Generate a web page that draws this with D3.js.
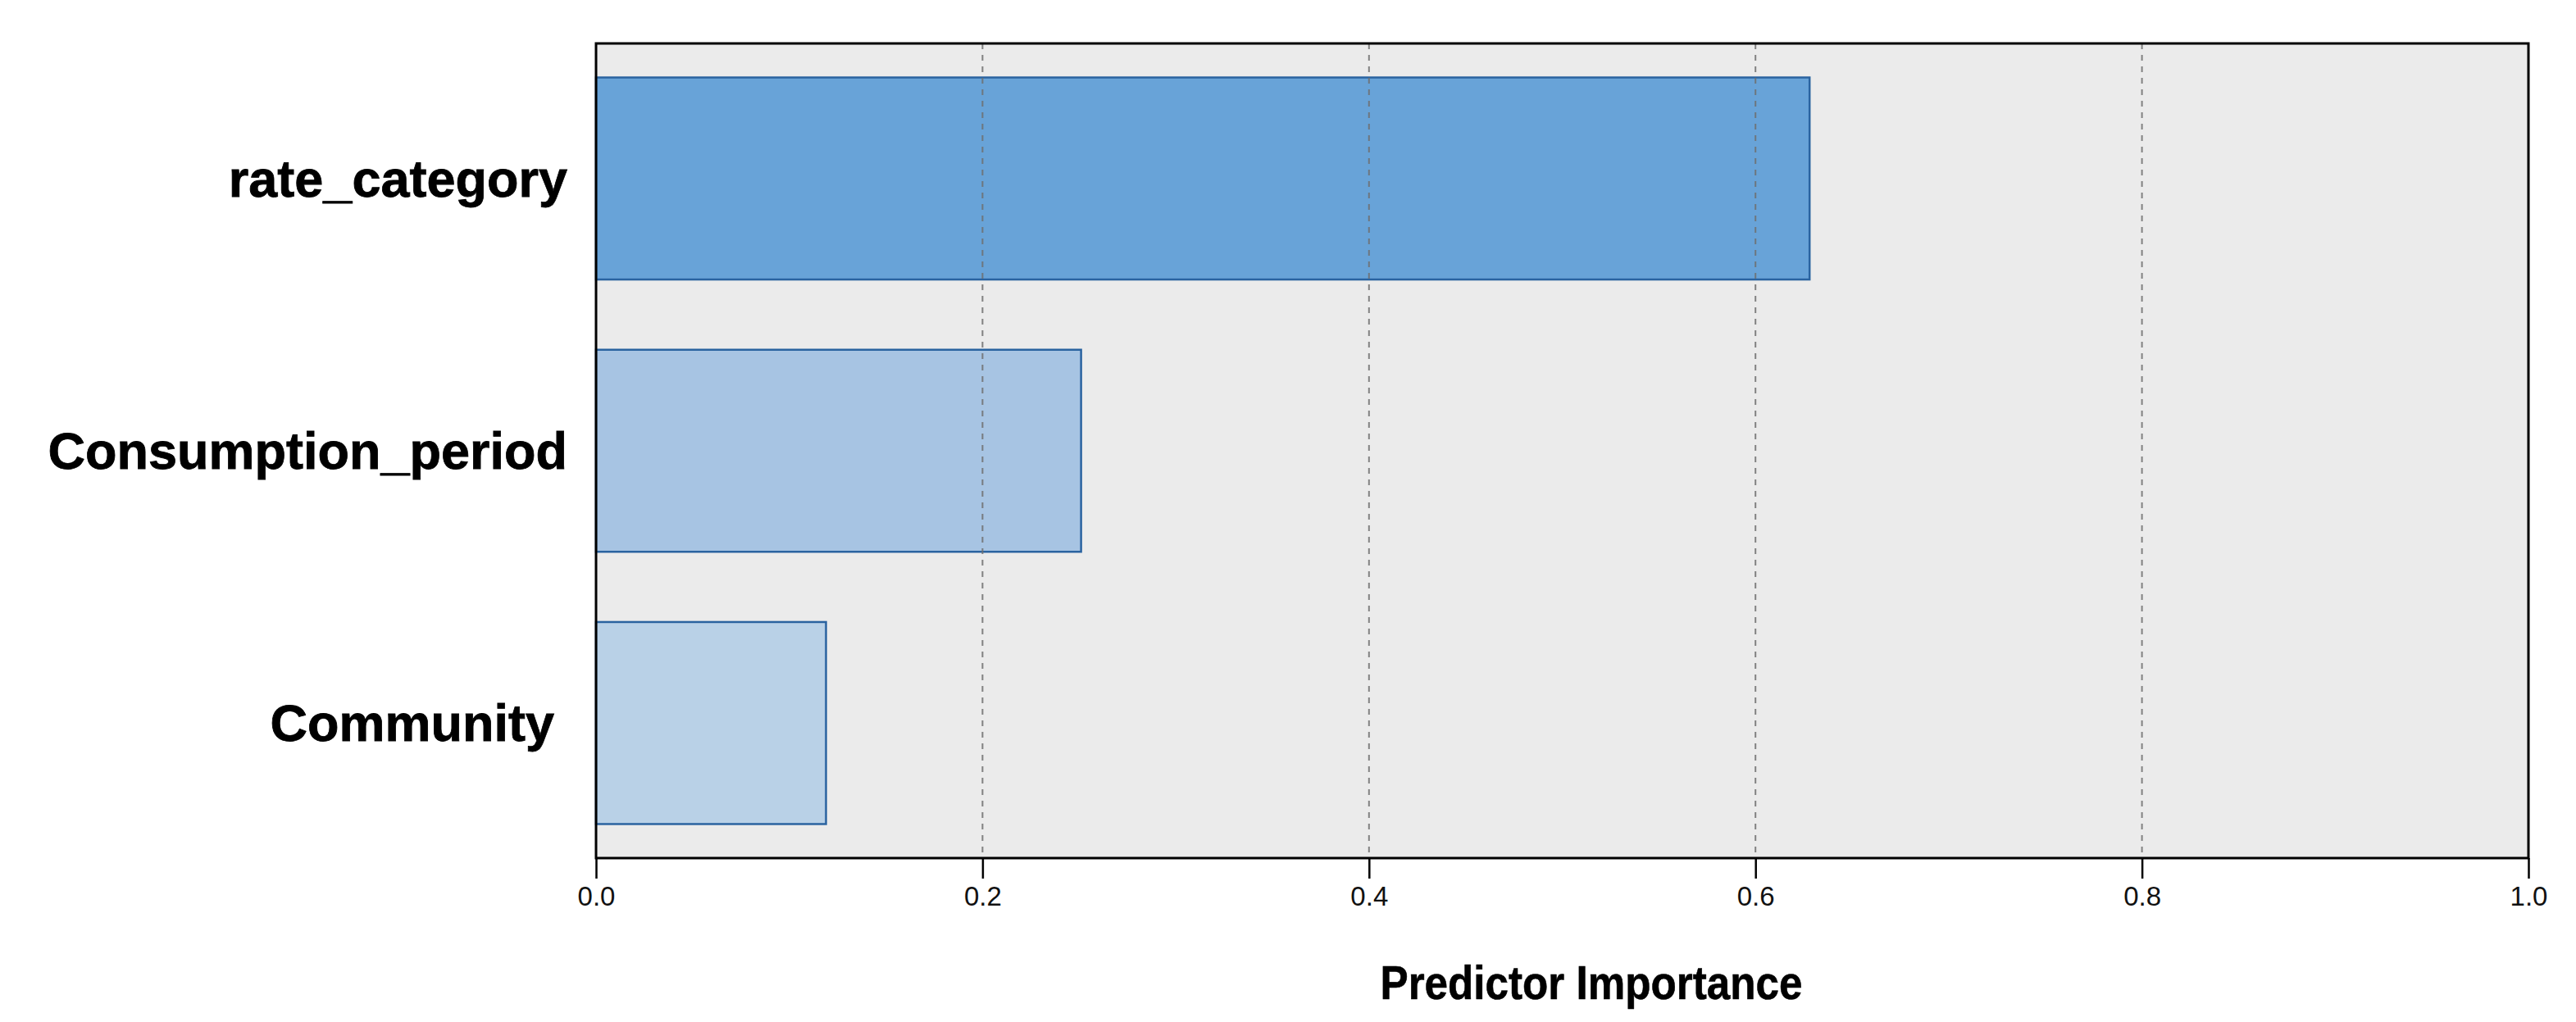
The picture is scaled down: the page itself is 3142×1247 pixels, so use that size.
<!DOCTYPE html>
<html>
<head>
<meta charset="utf-8">
<script src="https://cdn.jsdelivr.net/npm/d3@7"></script>
<style>
  html, body { margin: 0; padding: 0; background: #ffffff; }
  svg { display: block; }
</style>
</head>
<body>
<svg id="chart" width="3142" height="1247"></svg>
<script>
// ---- data ----
const categories = ["rate_category", "Consumption_period", "Community"];
const importance = [0.628, 0.251, 0.119];
const barColors = ["#68a3d8", "#a7c4e3", "#b9d1e7"];
const tickValues = [0.0, 0.2, 0.4, 0.6, 0.8, 1.0];
const xTitle = "Predictor Importance";

// ---- layout ----
const W = 3142, H = 1247;
const m = { left: 727, right: 3084, top: 53, bottom: 1047 };
const svg = d3.select("#chart");

const x = d3.scaleLinear().domain([0, 1]).range([m.left, m.right]);
const y = d3.scaleBand().domain(categories).range([m.top, m.bottom])
  .paddingInner(0.258).paddingOuter(0.125);

// background
svg.append("rect")
  .attr("x", m.left).attr("y", m.top)
  .attr("width", m.right - m.left).attr("height", m.bottom - m.top)
  .attr("fill", "#ebebeb");

// bars
svg.append("g").selectAll("rect")
  .data(categories)
  .join("rect")
  .attr("x", x(0))
  .attr("y", d => y(d))
  .attr("width", (d, i) => x(importance[i]) - x(0))
  .attr("height", y.bandwidth())
  .attr("fill", (d, i) => barColors[i])
  .attr("stroke", "#2a63a0")
  .attr("stroke-width", 2.5);

// grid lines (dashed)
svg.append("g").selectAll("line")
  .data(tickValues.filter(v => v > 0 && v < 1))
  .join("line")
  .attr("x1", d => x(d)).attr("x2", d => x(d))
  .attr("y1", m.top).attr("y2", m.bottom)
  .attr("stroke", "#6f6f6f")
  .attr("stroke-opacity", 0.85)
  .attr("stroke-width", 2)
  .attr("stroke-dasharray", "7,7");

// frame
svg.append("rect")
  .attr("x", m.left).attr("y", m.top)
  .attr("width", m.right - m.left).attr("height", m.bottom - m.top)
  .attr("fill", "none")
  .attr("stroke", "#000")
  .attr("stroke-width", 3);

// x axis
const xAxis = d3.axisBottom(x)
  .tickValues(tickValues)
  .tickFormat(d3.format(".1f"))
  .tickSize(25)
  .tickSizeOuter(0)
  .tickPadding(10);
const gx = svg.append("g")
  .attr("transform", `translate(0,${m.bottom})`)
  .call(xAxis);
gx.select(".domain").remove();
gx.selectAll(".tick line").attr("stroke", "#000").attr("stroke-width", 2.5);
gx.selectAll(".tick text")
  .attr("fill", "#111")
  .style("font-family", "'Liberation Sans', Arial, sans-serif")
  .style("font-size", "33px");

// category labels
svg.append("g").selectAll("text")
  .data(categories)
  .join("text")
  .attr("x", d => d === "Community" ? 676 : 692)
  .attr("y", d => y(d) + y.bandwidth() / 2)
  .attr("dy", "0.35em")
  .attr("text-anchor", "end")
  .attr("fill", "#000")
  .attr("stroke", "#000")
  .attr("stroke-width", 0.8)
  .style("font-family", "'Liberation Sans', Arial, sans-serif")
  .style("font-weight", "bold")
  .style("font-size", "63px")
  .text(d => d);

// x axis title
svg.append("text")
  .attr("x", 1941)
  .attr("y", 1219)
  .attr("text-anchor", "middle")
  .attr("fill", "#000")
  .attr("stroke", "#000")
  .attr("stroke-width", 0.6)
  .attr("textLength", 515)
  .attr("lengthAdjust", "spacingAndGlyphs")
  .style("font-family", "'Liberation Sans', Arial, sans-serif")
  .style("font-weight", "bold")
  .style("font-size", "58px")
  .text(xTitle);
</script>
</body>
</html>
